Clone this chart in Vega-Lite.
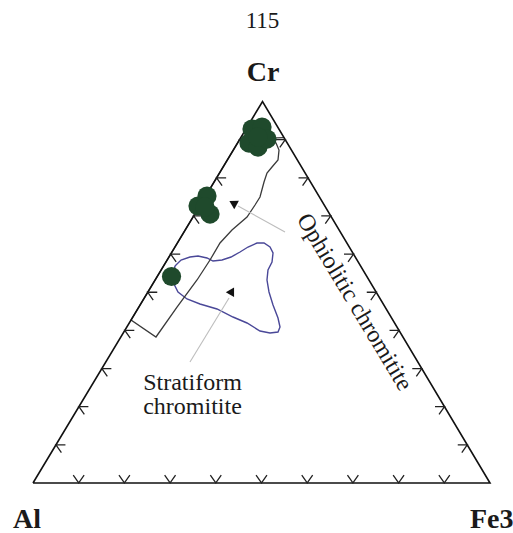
{
  "$schema": "https://vega.github.io/schema/vega-lite/v6.json",
  "width": 513,
  "height": 533,
  "autosize": "none",
  "padding": 0,
  "background": "white",
  "config": {"view": {"stroke": null}},
  "datasets": {
    "frame": [
      {"i": 0, "x": 0, "y": 0},
      {"i": 1, "x": 100, "y": 0},
      {"i": 2, "x": 50.22, "y": 100},
      {"i": 3, "x": 0, "y": 0}
    ],
    "oph": [
      {"i": 0, "x": 45.28, "y": 90.17},
      {"i": 1, "x": 21.46, "y": 42.73},
      {"i": 2, "x": 26.91, "y": 38.27},
      {"i": 3, "x": 31.51, "y": 46.13},
      {"i": 4, "x": 35.89, "y": 53.21},
      {"i": 5, "x": 38.73, "y": 58.45},
      {"i": 6, "x": 40.92, "y": 62.91},
      {"i": 7, "x": 43.54, "y": 66.32},
      {"i": 8, "x": 46.83, "y": 69.72},
      {"i": 9, "x": 48.58, "y": 72.87},
      {"i": 10, "x": 49.67, "y": 74.97},
      {"i": 11, "x": 50.55, "y": 78.9},
      {"i": 12, "x": 51.2, "y": 81.26},
      {"i": 13, "x": 52.3, "y": 82.83},
      {"i": 14, "x": 53.61, "y": 84.67},
      {"i": 15, "x": 53.83, "y": 87.29},
      {"i": 16, "x": 53.17, "y": 89.12},
      {"i": 17, "x": 52.3, "y": 89.91}
    ],
    "chord": [
      {"i": 0, "x": 45.28, "y": 90.17},
      {"i": 1, "x": 54.94, "y": 90.51}
    ],
    "strat": [
      {"i": 0, "x": 31.07, "y": 56.88},
      {"i": 1, "x": 32.39, "y": 58.45},
      {"i": 2, "x": 34.35, "y": 59.24},
      {"i": 3, "x": 36.11, "y": 59.5},
      {"i": 4, "x": 38.07, "y": 58.98},
      {"i": 5, "x": 39.39, "y": 58.19},
      {"i": 6, "x": 41.36, "y": 58.45},
      {"i": 7, "x": 43.33, "y": 59.24},
      {"i": 8, "x": 45.3, "y": 60.55},
      {"i": 9, "x": 47.05, "y": 61.86},
      {"i": 10, "x": 49.02, "y": 62.91},
      {"i": 11, "x": 50.55, "y": 62.91},
      {"i": 12, "x": 51.86, "y": 61.86},
      {"i": 13, "x": 52.52, "y": 60.29},
      {"i": 14, "x": 52.3, "y": 57.93},
      {"i": 15, "x": 51.42, "y": 55.83},
      {"i": 16, "x": 51.2, "y": 53.21},
      {"i": 17, "x": 51.64, "y": 50.07},
      {"i": 18, "x": 52.52, "y": 46.66},
      {"i": 19, "x": 53.61, "y": 43.25},
      {"i": 20, "x": 54.05, "y": 40.89},
      {"i": 21, "x": 53.61, "y": 39.58},
      {"i": 22, "x": 51.86, "y": 39.32},
      {"i": 23, "x": 49.67, "y": 39.84},
      {"i": 24, "x": 46.83, "y": 41.94},
      {"i": 25, "x": 43.76, "y": 43.51},
      {"i": 26, "x": 40.26, "y": 45.61},
      {"i": 27, "x": 36.54, "y": 46.92},
      {"i": 28, "x": 33.7, "y": 48.23},
      {"i": 29, "x": 31.73, "y": 50.07},
      {"i": 30, "x": 30.85, "y": 52.16},
      {"i": 31, "x": 30.63, "y": 54.26},
      {"i": 32, "x": 31.07, "y": 56.88}
    ],
    "leaders": [
      {"g": "o", "i": 0, "x": 55.14, "y": 65.79},
      {"g": "o", "i": 1, "x": 44.86, "y": 72.61},
      {"g": "s", "i": 0, "x": 34.35, "y": 31.72},
      {"g": "s", "i": 1, "x": 42.89, "y": 48.49}
    ],
    "heads": [
      {"x": 43.76, "y": 73.39, "a": 299},
      {"x": 43.54, "y": 50.33, "a": 30}
    ],
    "samples": [
      {"x": 47.92, "y": 92.79},
      {"x": 50.11, "y": 93.32},
      {"x": 47.26, "y": 89.12},
      {"x": 49.23, "y": 88.07},
      {"x": 51.2, "y": 90.17},
      {"x": 49.23, "y": 90.69},
      {"x": 38.07, "y": 75.23},
      {"x": 36.11, "y": 72.61},
      {"x": 38.73, "y": 70.51},
      {"x": 37.64, "y": 72.35},
      {"x": 30.31, "y": 54.13}
    ],
    "tb": [
      {"x": 10, "y": 0}, {"x": 20, "y": 0}, {"x": 30, "y": 0}, {"x": 40, "y": 0}, {"x": 50, "y": 0},
      {"x": 60, "y": 0}, {"x": 70, "y": 0}, {"x": 80, "y": 0}, {"x": 90, "y": 0}
    ],
    "tl": [
      {"x": 5.02, "y": 10}, {"x": 10.04, "y": 20}, {"x": 15.07, "y": 30}, {"x": 20.09, "y": 40}, {"x": 25.11, "y": 50},
      {"x": 30.13, "y": 60}, {"x": 35.15, "y": 70}, {"x": 40.18, "y": 80}, {"x": 45.2, "y": 90}
    ],
    "tr": [
      {"x": 95.02, "y": 10}, {"x": 90.04, "y": 20}, {"x": 85.07, "y": 30}, {"x": 80.09, "y": 40}, {"x": 75.11, "y": 50},
      {"x": 70.13, "y": 60}, {"x": 65.15, "y": 70}, {"x": 60.18, "y": 80}, {"x": 55.2, "y": 90}
    ],
    "pagenum": [
      {"x": 50.22, "y": 119.27, "t": "115"}
    ],
    "apex": [
      {"x": 50.33, "y": 105.37, "t": "Cr"}
    ],
    "leftv": [
      {"x": -4.38, "y": -11.8, "t": "Al"}
    ],
    "rightv": [
      {"x": 95.62, "y": -11.8, "t": "Fe3"}
    ],
    "strat_label": [
      {"x": 34.9, "y": 24.38, "t": "Stratiform"},
      {"x": 34.9, "y": 18.09, "t": "chromitite"}
    ],
    "rot": [
      {"x": 70.3, "y": 47.4, "t": "Ophiolitic chromitite"}
    ]
  },
  "encoding": {
    "x": {"field": "x", "type": "quantitative", "axis": null, "scale": {"domain": [-7.22, 105.03], "nice": false, "zero": false}},
    "y": {"field": "y", "type": "quantitative", "axis": null, "scale": {"domain": [-13.11, 126.61], "nice": false, "zero": false}}
  },
  "layer": [
    {
      "data": {"name": "strat"},
      "mark": {"type": "line", "color": "#4a4898", "strokeWidth": 1.4, "interpolate": "linear"},
      "encoding": {"order": {"field": "i", "type": "quantitative"}}
    },
    {
      "data": {"name": "oph"},
      "mark": {"type": "line", "color": "#3a3a3a", "strokeWidth": 1.3},
      "encoding": {"order": {"field": "i", "type": "quantitative"}}
    },
    {
      "data": {"name": "chord"},
      "mark": {"type": "line", "color": "#3a3a3a", "strokeWidth": 1.3},
      "encoding": {"order": {"field": "i", "type": "quantitative"}}
    },
    {
      "data": {"name": "leaders"},
      "mark": {"type": "line", "color": "#bdbdbd", "strokeWidth": 1.1},
      "encoding": {"detail": {"field": "g"}, "order": {"field": "i", "type": "quantitative"}}
    },
    {
      "data": {"name": "heads"},
      "mark": {"type": "point", "shape": "triangle-up", "filled": true, "color": "#111111", "size": 90, "opacity": 1},
      "encoding": {"angle": {"field": "a", "type": "quantitative", "scale": null}}
    },
    {
      "data": {"name": "frame"},
      "mark": {"type": "line", "color": "#111111", "strokeWidth": 1.6, "strokeJoin": "miter"},
      "encoding": {"order": {"field": "i", "type": "quantitative"}}
    },
    {
      "data": {"name": "tb"},
      "mark": {"type": "point", "shape": "M-0.574,-0.819L0,0L0.574,-0.819", "filled": false, "color": "#222222", "strokeWidth": 1.3, "size": 361, "opacity": 1}
    },
    {
      "data": {"name": "tl"},
      "mark": {"type": "point", "shape": "M1,0L0,0L0.574,0.819", "filled": false, "color": "#222222", "strokeWidth": 1.3, "size": 361, "opacity": 1}
    },
    {
      "data": {"name": "tr"},
      "mark": {"type": "point", "shape": "M-1,0L0,0L-0.574,0.819", "filled": false, "color": "#222222", "strokeWidth": 1.3, "size": 361, "opacity": 1}
    },
    {
      "data": {"name": "samples"},
      "mark": {"type": "point", "shape": "circle", "filled": true, "color": "#1f4a2c", "size": 370, "opacity": 1}
    },
    {
      "data": {"name": "pagenum"},
      "mark": {"type": "text", "font": "Liberation Serif", "fontSize": 23, "align": "center", "baseline": "alphabetic", "color": "#1a1a1a"},
      "encoding": {"text": {"field": "t"}}
    },
    {
      "data": {"name": "apex"},
      "mark": {"type": "text", "font": "Liberation Serif", "fontSize": 28, "fontWeight": "bold", "align": "center", "baseline": "alphabetic", "color": "#1a1a1a"},
      "encoding": {"text": {"field": "t"}}
    },
    {
      "data": {"name": "leftv"},
      "mark": {"type": "text", "font": "Liberation Serif", "fontSize": 28, "fontWeight": "bold", "align": "left", "baseline": "alphabetic", "color": "#1a1a1a"},
      "encoding": {"text": {"field": "t"}}
    },
    {
      "data": {"name": "rightv"},
      "mark": {"type": "text", "font": "Liberation Serif", "fontSize": 28, "fontWeight": "bold", "align": "left", "baseline": "alphabetic", "color": "#1a1a1a"},
      "encoding": {"text": {"field": "t"}}
    },
    {
      "data": {"name": "strat_label"},
      "mark": {"type": "text", "font": "Liberation Serif", "fontSize": 24, "align": "center", "baseline": "alphabetic", "color": "#1a1a1a"},
      "encoding": {"text": {"field": "t"}}
    },
    {
      "data": {"name": "rot"},
      "mark": {"type": "text", "font": "Liberation Serif", "fontSize": 24, "angle": 59, "align": "center", "baseline": "middle", "color": "#1a1a1a"},
      "encoding": {"text": {"field": "t"}}
    }
  ]
}
